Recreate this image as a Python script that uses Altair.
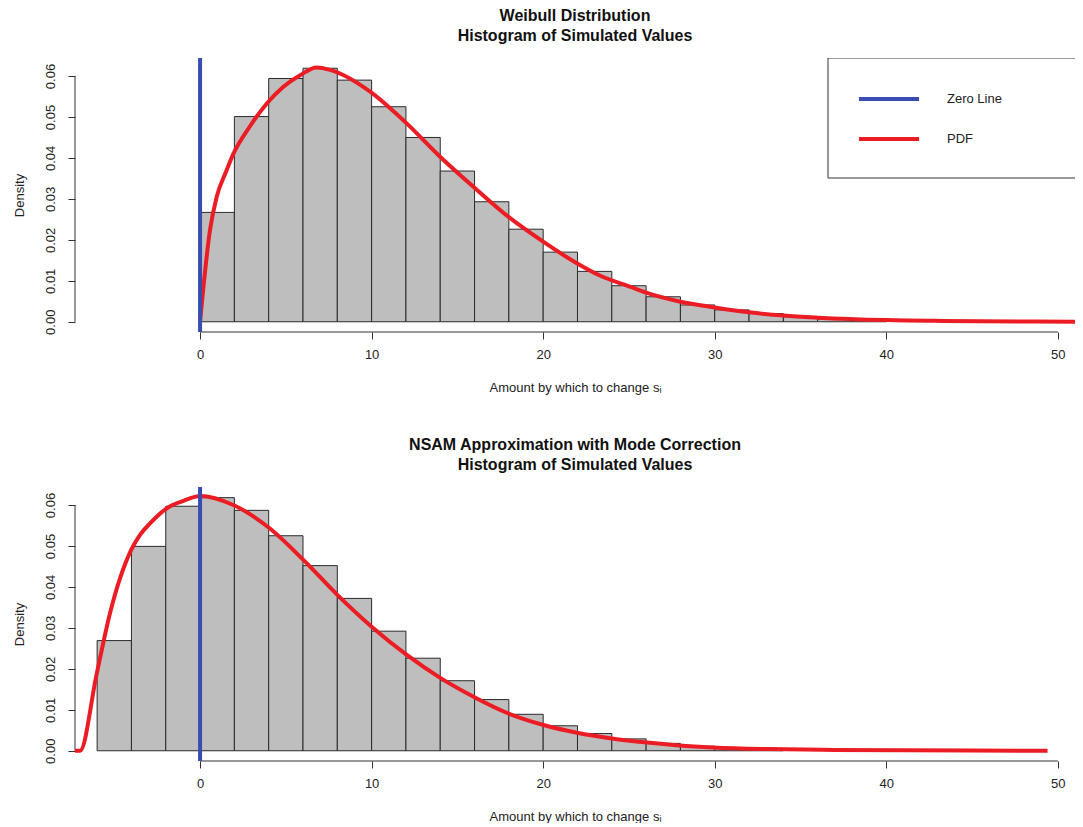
import altair as alt
import pandas as pd

# ---------------- data ----------------
bin_width = 2

top_bin_left = [0, 2, 4, 6, 8, 10, 12, 14, 16, 18, 20, 22, 24, 26, 28, 30, 32, 34, 36, 38]
top_density = [0.0267, 0.0501, 0.0594, 0.0619, 0.0590, 0.0525, 0.0450, 0.0368, 0.0293, 0.0226,
               0.0170, 0.0123, 0.0088, 0.0061, 0.0041, 0.0029, 0.0020, 0.0012, 0.0007, 0.0004]

bottom_bin_left = [-6, -4, -2, 0, 2, 4, 6, 8, 10, 12, 14, 16, 18, 20, 22, 24, 26, 28, 30, 32]
bottom_density = [0.0269, 0.0499, 0.0597, 0.0618, 0.0587, 0.0525, 0.0452, 0.0372, 0.0292, 0.0226,
                  0.0171, 0.0125, 0.0089, 0.0061, 0.0042, 0.0029, 0.0018, 0.0011, 0.0007, 0.0004]

top_pdf_x = [0, 0.58, 0.97, 1.5, 1.94, 2.92, 3.89, 4.86, 5.83, 6.8, 7.58, 9.91, 11.95, 13.99,
             16.03, 17.98, 20.02, 21.96, 23.3, 25.1, 26.0, 28.0, 30.0, 32.0, 34.0, 36.0, 40.0, 43.3, 52.0]
top_pdf_y = [0.0, 0.0224, 0.0305, 0.0365, 0.0410, 0.0478, 0.0533, 0.0574, 0.0602, 0.0621, 0.0615,
             0.0562, 0.0488, 0.0403, 0.0326, 0.0256, 0.0195, 0.0143, 0.0113, 0.0085, 0.0071, 0.0049,
             0.0035, 0.0023, 0.0015, 0.0010, 0.0004, 0.0002, 0.0]

bottom_pdf_x = [-7.3, -7.0, -6.02, -5.25, -4.02, -3.5, -2.92, -1.94, -0.97, 0.0, 1.94, 4.0, 6.02, 7.97,
                10.0, 12.05, 14.0, 15.94, 17.98, 20.02, 21.97, 24.0, 26.05, 27.9, 29.9, 33.2, 37.0, 49.4]
bottom_pdf_y = [0.0, 0.0, 0.0189, 0.0336, 0.0490, 0.0527, 0.0555, 0.0592, 0.0610, 0.0622, 0.0600, 0.0545,
                0.0466, 0.0382, 0.0303, 0.0234, 0.0178, 0.0132, 0.0091, 0.0063, 0.0044, 0.0030,
                0.0020, 0.0013, 0.0008, 0.0004, 0.0002, 0.0]

x_ticks = [0, 10, 20, 30, 40, 50]
y_ticks = [0.0, 0.01, 0.02, 0.03, 0.04, 0.05, 0.06]

legend_labels = ["Zero Line", "PDF"]
BLUE = "#3a4cb1"
RED = "#ec1c24"
legend_colors = [BLUE, RED]

top_title = ["Weibull Distribution", "Histogram of Simulated Values"]
bottom_title = ["NSAM Approximation with Mode Correction", "Histogram of Simulated Values"]
x_title = "Amount by which to change s\u1d62"
y_title = "Density"

# ---------------- layout ----------------
FONT = "Liberation Sans"
XDOM = [-7.29, 51.0]
YDOM = [-0.0025, 0.0644]
W, H = 1000, 274


def panel(title_lines, bin_left, dens, px, py, with_legend):
    bars = pd.DataFrame({
        "x0": bin_left,
        "x1": [b + bin_width for b in bin_left],
        "d": dens,
        "z": [0.0] * len(bin_left),
    })
    curve = pd.DataFrame({"x": px, "y": py, "series": ["PDF"] * len(px)})
    zero = pd.DataFrame({"x": [0.0], "series": ["Zero Line"]})
    xline = pd.DataFrame({"a": [x_ticks[0]], "b": [x_ticks[-1]], "y": [YDOM[0]]})
    yline = pd.DataFrame({"x": [XDOM[0]], "a": [y_ticks[0]], "b": [y_ticks[-1]]})

    xscale = alt.Scale(domain=XDOM, nice=False, zero=False)
    yscale = alt.Scale(domain=YDOM, nice=False, zero=False)
    xaxis = alt.Axis(values=x_ticks, format="d", title=x_title, domain=False, grid=False,
                     tickSize=7, tickColor="#333333", labelFontSize=13, labelColor="#222222",
                     labelPadding=9, labelFont=FONT, titleFont=FONT, titleFontSize=13,
                     titleFontWeight="normal", titleColor="#222222", titlePadding=20)
    yaxis = alt.Axis(values=y_ticks, format=".2f", title=y_title, domain=False, grid=False,
                     tickSize=7, tickColor="#333333", labelFontSize=13, labelColor="#222222",
                     labelAngle=270, labelAlign="center", labelBaseline="bottom",
                     labelPadding=11, labelFont=FONT, titleFont=FONT, titleFontSize=13,
                     titleFontWeight="normal", titleColor="#222222", titlePadding=18)

    X = lambda f: alt.X(f, scale=xscale, axis=xaxis)
    Y = lambda f: alt.Y(f, scale=yscale, axis=yaxis)

    bar_layer = alt.Chart(bars).mark_rect(fill="#bebebe", stroke="#2a2a2a", strokeWidth=1).encode(
        x=X("x0:Q"), x2="x1:Q", y=Y("d:Q"), y2="z:Q")
    xaxis_line = alt.Chart(xline).mark_rule(color="#333333", strokeWidth=1).encode(
        x=X("a:Q"), x2="b:Q", y=Y("y:Q"))
    yaxis_line = alt.Chart(yline).mark_rule(color="#333333", strokeWidth=1).encode(
        x=X("x:Q"), y=Y("a:Q"), y2="b:Q")

    if with_legend:
        color_zero = alt.Color("series:N", scale=alt.Scale(domain=legend_labels, range=legend_colors),
                               legend=alt.Legend(orient="none", legendX=753, legendY=0, title=None,
                                                 symbolType="stroke", symbolSize=3600,
                                                 symbolStrokeWidth=4, labelFontSize=13,
                                                 labelFont=FONT, labelColor="#222222",
                                                 labelOffset=26, padding=29, rowPadding=16,
                                                 clipHeight=24))
        color_pdf = color_zero
    else:
        color_zero = alt.value(BLUE)
        color_pdf = alt.value(RED)

    zero_layer = alt.Chart(zero).mark_rule(strokeWidth=4).encode(x=X("x:Q"), color=color_zero)
    pdf_layer = alt.Chart(curve).mark_line(strokeWidth=4, interpolate="monotone", clip=True).encode(
        x=X("x:Q"), y=Y("y:Q"), color=color_pdf)

    layers = [bar_layer, xaxis_line, yaxis_line, pdf_layer, zero_layer]
    if with_legend:
        box = alt.Chart(zero).mark_rect(filled=False, stroke="#333333", strokeWidth=1, clip=True).encode(
            x=alt.value(753), x2=alt.value(1100), y=alt.value(0), y2=alt.value(120))
        layers.append(box)

    return alt.layer(*layers).properties(
        width=W, height=H,
        view=alt.ViewBackground(stroke="transparent", strokeWidth=0),
        title=alt.TitleParams(text=title_lines, fontSize=16, fontWeight="bold", font=FONT,
                              anchor="middle", frame="group", offset=12, lineHeight=20,
                              color="#111111"),
    )


top = panel(top_title, top_bin_left, top_density, top_pdf_x, top_pdf_y, True)
bottom = panel(bottom_title, bottom_bin_left, bottom_density, bottom_pdf_x, bottom_pdf_y, False)

chart = alt.vconcat(top, bottom, spacing=43).resolve_scale(
    x="independent", y="independent", color="independent"
).properties(
    padding={"left": 4, "top": 0, "right": 0, "bottom": 0},
    background="white",
).configure_view(strokeWidth=0, stroke="transparent").configure(font=FONT)

chart.save("out.html", embed_options={"renderer": "svg", "actions": False})
